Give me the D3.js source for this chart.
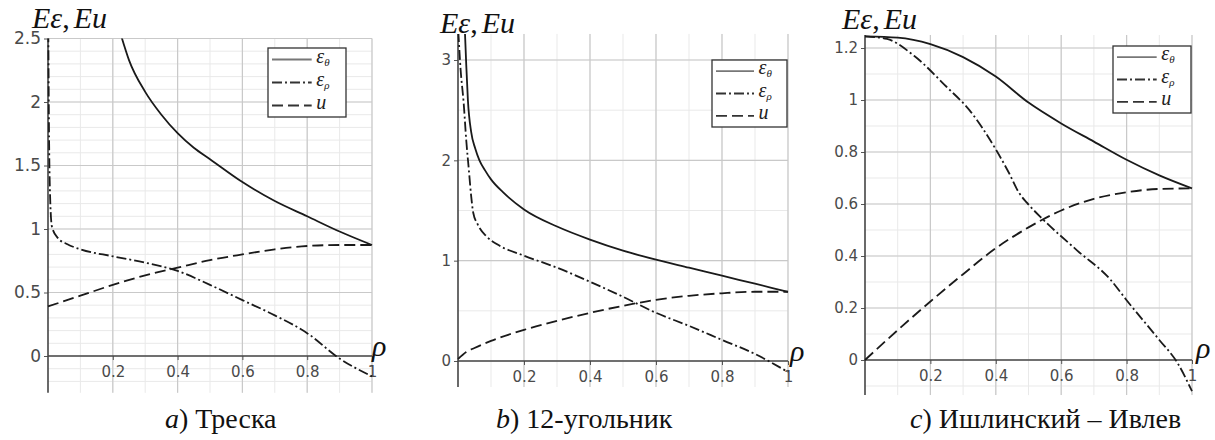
<!DOCTYPE html>
<html>
<head>
<meta charset="utf-8">
<script src="https://cdn.jsdelivr.net/npm/d3@7"></script>
<style>
  body { margin: 0; background: #fff; }
  svg { display: block; }
</style>
</head>
<body>
<svg id="chart" width="1215" height="440"></svg>
<script>
// ---- Data: dimensionless strain / displacement vs radius ρ ----
const rhoTicks = [0.2, 0.4, 0.6, 0.8, 1];

// a) Tresca
const trescaTicksY = [0, 0.5, 1, 1.5, 2, 2.5];
const trescaEpsTheta = [[0.226,2.52],[0.25,2.33],[0.3,2.08],[0.35,1.9],[0.4,1.755],[0.45,1.64],[0.5,1.55],[0.6,1.37],[0.7,1.22],[0.8,1.1],[0.9,0.98],[1,0.874]];
const trescaEpsRho = [[0.001,2.55],[0.003,1.8],[0.006,1.3],[0.012,1.02],[0.03,0.93],[0.06,0.88],[0.1,0.84],[0.2,0.785],[0.3,0.735],[0.4,0.67],[0.5,0.56],[0.6,0.44],[0.7,0.32],[0.8,0.18],[0.9,-0.02],[1,-0.16]];
const trescaU = [[0,0.39],[0.1,0.475],[0.2,0.56],[0.3,0.635],[0.4,0.695],[0.5,0.755],[0.6,0.8],[0.7,0.84],[0.8,0.866],[0.9,0.874],[1,0.874]];

// b) regular 12-gon
const dodecaTicksY = [0, 1, 2, 3];
const dodecaEpsTheta = [[0.021,3.28],[0.025,2.95],[0.03,2.6],[0.04,2.28],[0.052,2.12],[0.065,2.0],[0.082,1.9],[0.1,1.81],[0.137,1.68],[0.2,1.51],[0.3,1.34],[0.4,1.21],[0.5,1.1],[0.6,1.01],[0.7,0.93],[0.8,0.85],[0.9,0.77],[1,0.69]];
const dodecaEpsRho = [[0.001,3.28],[0.008,2.9],[0.017,2.58],[0.025,2.2],[0.033,1.9],[0.04,1.64],[0.046,1.48],[0.06,1.36],[0.087,1.24],[0.12,1.16],[0.2,1.05],[0.3,0.93],[0.4,0.79],[0.5,0.64],[0.6,0.48],[0.7,0.35],[0.8,0.21],[0.9,0.07],[1,-0.11]];
const dodecaU = [[0,0.02],[0.025,0.09],[0.05,0.13],[0.1,0.2],[0.2,0.31],[0.3,0.4],[0.4,0.48],[0.5,0.55],[0.6,0.61],[0.7,0.65],[0.8,0.675],[0.9,0.69],[1,0.69]];

// c) Ishlinsky – Ivlev
const ishlinskyTicksY = [0, 0.2, 0.4, 0.6, 0.8, 1, 1.2];
const ishlinskyEpsTheta = [[0,1.245],[0.1,1.24],[0.2,1.215],[0.3,1.165],[0.4,1.09],[0.5,0.99],[0.6,0.91],[0.7,0.84],[0.8,0.77],[0.9,0.71],[1,0.66]];
const ishlinskyEpsRho = [[0,1.245],[0.067,1.235],[0.15,1.17],[0.25,1.05],[0.32,0.96],[0.4,0.81],[0.44,0.72],[0.47,0.645],[0.495,0.605],[0.545,0.54],[0.65,0.42],[0.75,0.31],[0.8,0.23],[0.9,0.077],[0.955,-0.01],[1,-0.12]];
const ishlinskyU = [[0,0],[0.1,0.115],[0.2,0.225],[0.3,0.33],[0.4,0.43],[0.5,0.51],[0.6,0.575],[0.7,0.62],[0.8,0.645],[0.9,0.658],[1,0.66]];

// ---- Panel layout ----
const panels = [
  { key: "a", letter: "a)", name: "Треска",
    xRange: [48, 372], yDomain: [0, 2.5], yRange: [356, 38.5], yExtent: [-0.29, 2.5],
    yTicks: trescaTicksY, yMinor: 0.1, yFont: 17, xFont: 15,
    series: [trescaEpsTheta, trescaEpsRho, trescaU],
    legend: { x: 268, y: 48, w: 78, h: 69 },
    title: { x: 32, y: 28 }, rho: { x: 372, y: 356 }, caption: { x: 165, y: 428 } },
  { key: "b", letter: "b)", name: "12-угольник",
    xRange: [458, 788], yDomain: [0, 3], yRange: [361, 60], yExtent: [-0.26, 3.26],
    yTicks: dodecaTicksY, yMinor: 0.5, yFont: 15, xFont: 15,
    series: [dodecaEpsTheta, dodecaEpsRho, dodecaU],
    legend: { x: 712, y: 60, w: 75, h: 67 },
    title: { x: 440, y: 33 }, rho: { x: 790, y: 361 }, caption: { x: 496, y: 428 } },
  { key: "c", letter: "c)", name: "Ишлинский – Ивлев",
    xRange: [865, 1192], yDomain: [0, 1.2], yRange: [360, 48], yExtent: [-0.135, 1.25],
    yTicks: ishlinskyTicksY, yMinor: 0.1, yFont: 15, xFont: 15,
    series: [ishlinskyEpsTheta, ishlinskyEpsRho, ishlinskyU],
    legend: { x: 1113, y: 46, w: 78, h: 67 },
    title: { x: 842, y: 29 }, rho: { x: 1196, y: 358 }, caption: { x: 910, y: 428 } }
];

const styles = [
  { dash: null },            // ε_θ
  { dash: "10,3,2,3" },      // ε_ρ
  { dash: "11,5" }           // u
];
const legendSubs = ["θ", "ρ", null];

const svg = d3.select("#chart");
const serif = "'Liberation Serif','Times New Roman',serif";
const sans = "'DejaVu Sans','Liberation Sans',sans-serif";
const fmt = d3.format("~g");

panels.forEach(p => {
  const x = d3.scaleLinear().domain([0, 1]).range(p.xRange);
  const y = d3.scaleLinear().domain(p.yDomain).range(p.yRange);
  const g = svg.append("g");
  const top = y(p.yExtent[1]), bottom = y(p.yExtent[0]);
  const left = x(0), right = x(1);

  // grid: minor first, then major
  const xMinor = d3.range(0.1, 1.0001, 0.1).map(v => +v.toFixed(3));
  const yMinor = d3.range(Math.ceil(p.yExtent[0] / p.yMinor) * p.yMinor, p.yExtent[1] + 1e-6, p.yMinor).map(v => +v.toFixed(3));
  g.append("g").selectAll("line").data(xMinor).join("line")
    .attr("x1", d => x(d)).attr("x2", d => x(d)).attr("y1", top).attr("y2", bottom)
    .attr("stroke", "#e9e9e9").attr("stroke-width", 1);
  g.append("g").selectAll("line").data(yMinor).join("line")
    .attr("x1", left).attr("x2", right).attr("y1", d => y(d)).attr("y2", d => y(d))
    .attr("stroke", "#e9e9e9").attr("stroke-width", 1);
  g.append("g").selectAll("line").data(rhoTicks).join("line")
    .attr("x1", d => x(d)).attr("x2", d => x(d)).attr("y1", top).attr("y2", bottom)
    .attr("stroke", "#c9c9c9").attr("stroke-width", 1.2);
  g.append("g").selectAll("line").data(p.yTicks.filter(d => d !== 0)).join("line")
    .attr("x1", left).attr("x2", right).attr("y1", d => y(d)).attr("y2", d => y(d))
    .attr("stroke", "#c9c9c9").attr("stroke-width", 1.2);

  // axes
  const yAxis = d3.axisLeft(y).tickValues(p.yTicks).tickFormat(fmt).tickSize(4).tickPadding(3);
  const ya = g.append("g").attr("transform", `translate(${left},0)`).call(yAxis);
  ya.select(".domain").remove();
  ya.selectAll("line").attr("stroke", "#555");
  ya.selectAll("text").attr("font-family", sans).attr("font-size", p.yFont).attr("fill", "#4a4a4a");

  const xAxis = d3.axisBottom(x).tickValues(rhoTicks).tickFormat(fmt).tickSize(4).tickPadding(6);
  const xa = g.append("g").attr("transform", `translate(0,${y(0)})`).call(xAxis);
  xa.select(".domain").remove();
  xa.selectAll("line").attr("stroke", "#555");
  xa.selectAll("text").attr("font-family", sans).attr("font-size", p.xFont).attr("fill", "#4a4a4a");

  g.append("line").attr("x1", left).attr("x2", left).attr("y1", top).attr("y2", bottom)
    .attr("stroke", "#444").attr("stroke-width", 1.6);
  g.append("line").attr("x1", left).attr("x2", right).attr("y1", y(0)).attr("y2", y(0))
    .attr("stroke", "#444").attr("stroke-width", 1.6);

  // curves
  const clipId = "clip-" + p.key;
  svg.append("clipPath").attr("id", clipId).append("rect")
    .attr("x", left - 2).attr("y", top).attr("width", right - left + 6).attr("height", bottom - top);
  const line = d3.line().x(d => x(d[0])).y(d => y(d[1])).curve(d3.curveMonotoneX);
  const curves = g.append("g").attr("clip-path", `url(#${clipId})`);
  p.series.forEach((s, i) => {
    curves.append("path").attr("d", line(s)).attr("fill", "none")
      .attr("stroke", "#1a1a1a").attr("stroke-width", 1.8)
      .attr("stroke-dasharray", styles[i].dash);
  });

  // legend
  const L = p.legend;
  const lg = g.append("g");
  lg.append("rect").attr("x", L.x).attr("y", L.y).attr("width", L.w).attr("height", L.h)
    .attr("fill", "#fff").attr("stroke", "#333").attr("stroke-width", 1.3);
  const rowH = L.h / 3;
  legendSubs.forEach((sub, i) => {
    const cy = L.y + rowH * (i + 0.5);
    lg.append("line").attr("x1", L.x + 4).attr("x2", L.x + L.w * 0.56).attr("y1", cy).attr("y2", cy)
      .attr("stroke", i === 0 ? "#777" : "#333").attr("stroke-width", 1.8)
      .attr("stroke-dasharray", styles[i].dash);
    const t = lg.append("text").attr("x", L.x + L.w * 0.62).attr("y", cy + 3)
      .attr("font-family", serif).attr("font-style", "italic").attr("font-size", 20).attr("fill", "#222");
    if (sub) {
      t.append("tspan").text("ε");
      t.append("tspan").attr("font-size", 11).attr("dy", 3).text(sub);
    } else {
      t.append("tspan").text("u");
    }
  });

  // labels
  const tt = g.append("text").attr("x", p.title.x).attr("y", p.title.y)
    .attr("font-family", serif).attr("font-size", 30).attr("fill", "#111");
  tt.append("tspan").attr("font-style", "italic").text("Eε");
  tt.append("tspan").text(",");
  tt.append("tspan").attr("font-style", "italic").attr("dx", 4).text("Eu");

  g.append("text").attr("x", p.rho.x).attr("y", p.rho.y)
    .attr("font-family", serif).attr("font-style", "italic").attr("font-size", 30).attr("fill", "#111")
    .text("ρ");

  const cap = g.append("text").attr("x", p.caption.x).attr("y", p.caption.y)
    .attr("font-family", serif).attr("font-size", 28).attr("fill", "#111");
  cap.append("tspan").attr("font-style", "italic").text(p.letter.slice(0, 1));
  cap.append("tspan").text(")  " + p.name);
});
</script>
</body>
</html>
